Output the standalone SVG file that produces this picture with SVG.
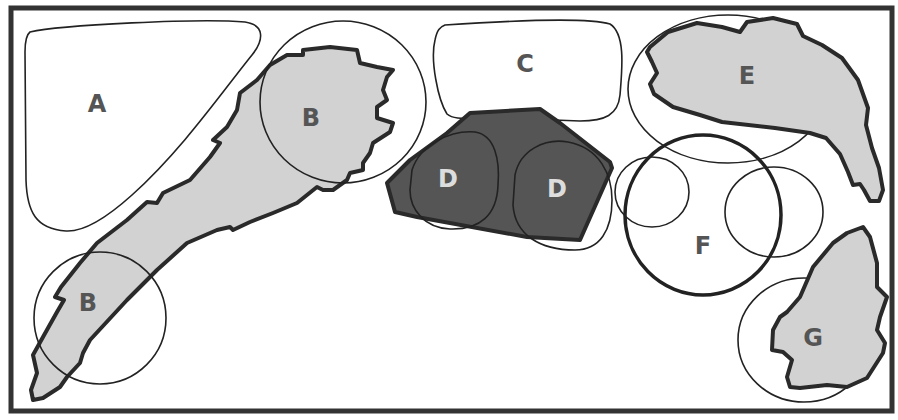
<svg xmlns="http://www.w3.org/2000/svg" width="898" height="420" viewBox="0 0 898 420">
<style>
.thin{fill:none;stroke:#222;stroke-width:1.6}
.thick{stroke:#2a2a2a;stroke-width:4;stroke-linejoin:round;stroke-linecap:round}
.light{fill:#d2d2d2}
.dark{fill:#555}
.lbl{font-family:"DejaVu Sans",sans-serif;font-weight:bold;font-size:24px;fill:#555;text-anchor:middle}
.lblw{font-family:"DejaVu Sans",sans-serif;font-weight:bold;font-size:24px;fill:#ddd;text-anchor:middle}
</style>
<rect x="0" y="0" width="898" height="420" fill="#fff"/>
<rect x="11" y="8" width="881" height="403" fill="none" stroke="#333" stroke-width="5"/>
<g id="A">
<path class="thin" d="M30,32 C60,25 200,18 245,22 C265,25 264,40 252,55 C222,92 182,150 132,195 C102,222 82,232 66,231 C36,229 27,212 26,180 L25,52 C25,42 26,35 30,32 Z"/>
<text class="lbl" x="97" y="112">A</text>
</g>
<g id="B">
<path class="thick light" d="M33,400 L31,390 L37,373 L33,355 L43,337 L57,312 L64,300 L55,297 L61,287 L80,263 L97,243 L127,220 L147,202 L157,203 L163,193 L190,180 L210,157 L220,143 L213,140 L227,127 L237,110 L240,93 L257,80 L270,65 L287,55 L303,55 L303,50 L330,47 L357,50 L360,63 L377,67 L393,70 L387,77 L383,90 L387,100 L377,107 L377,118 L393,123 L390,132 L373,143 L370,153 L363,163 L363,170 L350,173 L347,180 L333,190 L323,190 L317,187 L297,203 L273,213 L250,222 L233,230 L230,227 L217,230 L187,243 L157,270 L127,300 L90,340 L83,353 L80,363 L67,377 L60,387 L43,398 Z"/>
<ellipse class="thin" cx="343" cy="102" rx="83" ry="81"/>
<circle class="thin" cx="100" cy="318" r="66"/>
<text class="lbl" x="311" y="126">B</text>
<text class="lbl" x="88" y="311">B</text>
</g>
<g id="C">
<path class="thin" d="M445,25 C520,20 590,18 610,24 C626,34 622,70 620,95 C618,115 605,121 580,121 L500,118 C470,117 455,121 447,114 C438,100 430,60 435,40 C437,30 440,27 445,25 Z"/>
<text class="lbl" x="525" y="72">C</text>
</g>
<g id="D">
<path class="thick dark" d="M387,183 L410,160 L447,133 L470,113 L540,109 L560,123 L610,162 L612,168 L580,240 L527,237 L417,217 L395,212 Z"/>
<path class="thin" d="M412,170 C420,145 450,130 475,132 C495,135 500,160 498,185 C497,215 480,230 450,229 C425,228 410,210 410,190 Z"/>
<path class="thin" d="M515,175 C520,150 545,138 568,142 C600,148 612,175 612,200 C612,230 600,250 575,250 C540,250 515,235 513,205 Z"/>
<text class="lblw" x="448" y="187">D</text>
<text class="lblw" x="557" y="197">D</text>
</g>
<g id="E">
<ellipse class="thin" cx="728" cy="89" rx="100" ry="74"/>
<path class="thick light" d="M650,47 L668,32 L697,23 L722,27 L740,32 L747,22 L773,18 L797,24 L803,36 L822,45 L842,58 L858,80 L868,108 L866,125 L872,148 L879,168 L883,190 L879,201 L870,201 L864,190 L860,184 L853,185 L848,172 L840,154 L826,138 L810,133 L775,128 L722,122 L700,115 L673,107 L654,94 L650,84 L657,73 L652,62 L647,52 Z"/>
<text class="lbl" x="747" y="84">E</text>
</g>
<g id="F">
<ellipse cx="703" cy="215" rx="78" ry="80" fill="none" stroke="#222" stroke-width="3.5"/>
<ellipse class="thin" cx="652" cy="192" rx="37" ry="35"/>
<ellipse class="thin" cx="774" cy="212" rx="49" ry="45"/>
<text class="lbl" x="703" y="254">F</text>
</g>
<g id="G">
<ellipse class="thin" cx="804" cy="340" rx="66" ry="62"/>
<path class="thick light" d="M863,227 L870,237 L877,263 L877,287 L887,297 L880,317 L877,330 L885,343 L883,353 L867,378 L847,387 L827,385 L800,388 L790,387 L787,377 L792,360 L783,352 L772,350 L773,330 L780,317 L787,312 L800,297 L813,267 L833,243 L847,233 Z"/>
<text class="lbl" x="813" y="346">G</text>
</g>
</svg>
